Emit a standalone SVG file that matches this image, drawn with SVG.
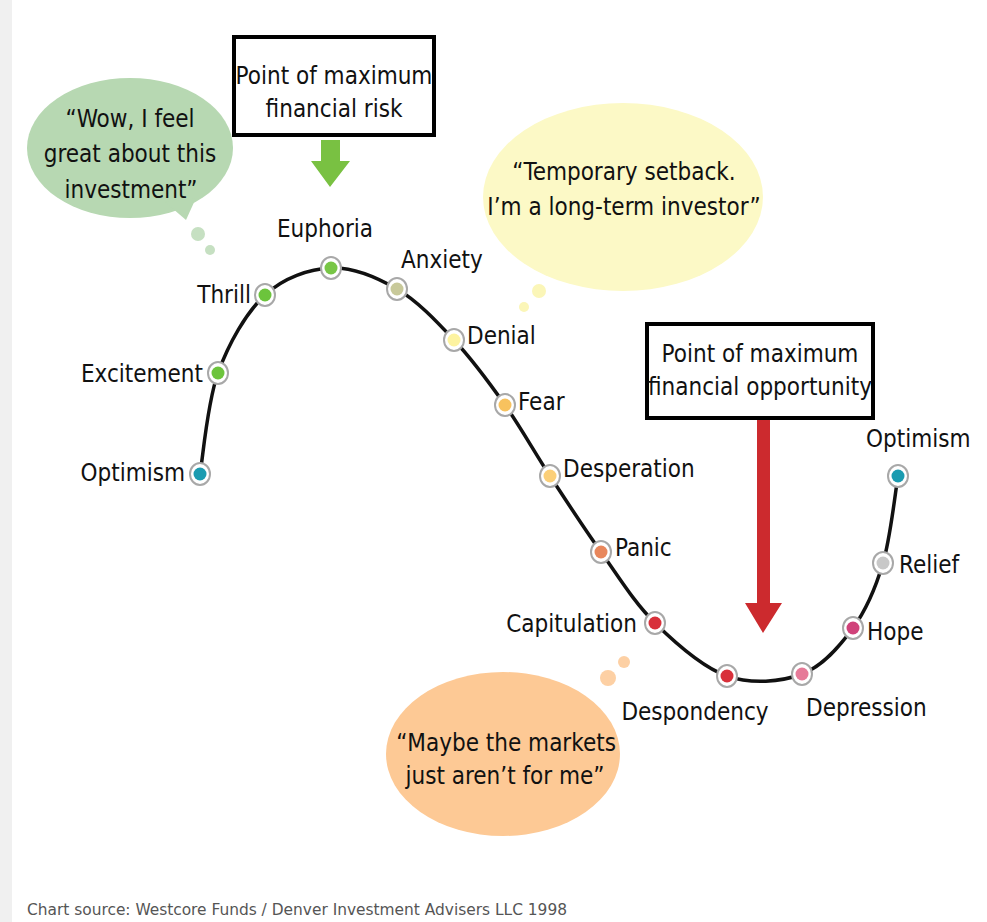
<svg xmlns="http://www.w3.org/2000/svg" width="987" height="922" viewBox="0 0 987 922">
<style>
text{font-family:"DejaVu Sans Condensed","DejaVu Sans",sans-serif;font-stretch:condensed;fill:#111;font-size:24px}
.mid{text-anchor:middle}
.end{text-anchor:end}
.ring{fill:#fff;stroke:#a8a8a8;stroke-width:2}
.box{fill:#fff;stroke:#000;stroke-width:4}
.foot{font-size:16px;fill:#555}
</style>
<rect x="0" y="0" width="987" height="922" fill="#fff"/>
<rect x="0" y="0" width="12" height="922" fill="#f0f0f0"/>

<g id="bubble-green">
<ellipse cx="130" cy="148" rx="103" ry="70" fill="#b7d8b2"/>
<path d="M165 202 L186 220 L196 198 Z" fill="#b7d8b2"/>
<circle cx="198" cy="234" r="7" fill="#c6e0c2"/>
<circle cx="210" cy="250" r="5" fill="#c6e0c2"/>
<text class="mid" x="130" y="127">“Wow, I feel</text>
<text class="mid" x="130" y="162">great about this</text>
<text class="mid" x="131" y="198">investment”</text>
</g>

<g id="bubble-yellow">
<ellipse cx="623" cy="197" rx="140" ry="94" fill="#fcf9c6"/>
<circle cx="539" cy="291" r="7" fill="#fbf6b8"/>
<circle cx="524" cy="307" r="5" fill="#fbf6b8"/>
<text class="mid" x="624" y="180">“Temporary setback.</text>
<text class="mid" x="624" y="215">I’m a long-term investor”</text>
</g>

<g id="bubble-orange">
<ellipse cx="503" cy="754" rx="117" ry="82" fill="#fdc995"/>
<circle cx="608" cy="678" r="8" fill="#fdd0a4"/>
<circle cx="624" cy="662" r="6" fill="#fdd0a4"/>
<text class="mid" x="506" y="751">“Maybe the markets</text>
<text class="mid" x="505" y="784">just aren’t for me”</text>
</g>

<g id="box-risk">
<rect class="box" x="234" y="37" width="200" height="98"/>
<text class="mid" x="334" y="84">Point of maximum</text>
<text class="mid" x="334" y="117">financial risk</text>
</g>

<g id="box-opportunity">
<rect class="box" x="647" y="324" width="226" height="94"/>
<text class="mid" x="760" y="362">Point of maximum</text>
<text class="mid" x="760" y="395">financial opportunity</text>
</g>

<g id="connectors">
<path d="M321 140 H340 V161 H350 L330 187 L311 161 H321 Z" fill="#79c142"/>
<path d="M757 420 H770 V603 H782 L763 633 L745 603 H757 Z" fill="#cc2a2e"/>
<path fill="none" stroke="#111" stroke-width="3.5" d="M200 474 C203 457.2 207.2 402.8 218 373 C228.8 343.2 246.2 312.5 265 295 C283.8 277.5 309 269 331 268 C353 267 376.5 277 397 289 C417.5 301 436 320.7 454 340 C472 359.3 489 382.3 505 405 C521 427.7 534 451.5 550 476 C566 500.5 583.5 527.5 601 552 C618.5 576.5 634 602.3 655 623 C676 643.7 702.5 667.5 727 676 C751.5 684.5 781 682 802 674 C823 666 839.5 646.5 853 628 C866.5 609.5 875.5 588.3 883 563 C890.5 537.7 895.5 490.5 898 476"/>
</g>

<g id="n-optimism1"><ellipse class="ring" cx="200" cy="474" rx="10" ry="11"/><circle cx="200" cy="474" r="6.5" fill="#1a9bb0"/><text class="end" x="185" y="481">Optimism</text></g>
<g id="n-excitement"><ellipse class="ring" cx="218" cy="373" rx="10" ry="11"/><circle cx="218" cy="373" r="6.5" fill="#6cc43c"/><text class="end" x="203" y="382">Excitement</text></g>
<g id="n-thrill"><ellipse class="ring" cx="265" cy="295" rx="10" ry="11"/><circle cx="265" cy="295" r="6.5" fill="#6cc43c"/><text class="end" x="251" y="303">Thrill</text></g>
<g id="n-euphoria"><ellipse class="ring" cx="331" cy="268" rx="10" ry="11"/><circle cx="331" cy="268" r="6.5" fill="#78c646"/><text class="mid" x="325" y="237">Euphoria</text></g>
<g id="n-anxiety"><ellipse class="ring" cx="397" cy="289" rx="10" ry="11"/><circle cx="397" cy="289" r="6.5" fill="#c8c99a"/><text x="401" y="268">Anxiety</text></g>
<g id="n-denial"><ellipse class="ring" cx="454" cy="340" rx="10" ry="11"/><circle cx="454" cy="340" r="6.5" fill="#fdf3a0"/><text x="467" y="344">Denial</text></g>
<g id="n-fear"><ellipse class="ring" cx="505" cy="405" rx="10" ry="11"/><circle cx="505" cy="405" r="6.5" fill="#f8c25e"/><text x="518" y="410">Fear</text></g>
<g id="n-desperation"><ellipse class="ring" cx="550" cy="476" rx="10" ry="11"/><circle cx="550" cy="476" r="6.5" fill="#fbcf78"/><text x="563" y="477">Desperation</text></g>
<g id="n-panic"><ellipse class="ring" cx="601" cy="552" rx="10" ry="11"/><circle cx="601" cy="552" r="6.5" fill="#e8875c"/><text x="615" y="556">Panic</text></g>
<g id="n-capitulation"><ellipse class="ring" cx="655" cy="623" rx="10" ry="11"/><circle cx="655" cy="623" r="6.5" fill="#d8303a"/><text class="end" x="637" y="632">Capitulation</text></g>
<g id="n-despondency"><ellipse class="ring" cx="727" cy="676" rx="10" ry="11"/><circle cx="727" cy="676" r="6.5" fill="#d8303a"/><text class="mid" x="695" y="720">Despondency</text></g>
<g id="n-depression"><ellipse class="ring" cx="802" cy="674" rx="10" ry="11"/><circle cx="802" cy="674" r="6.5" fill="#e67a98"/><text x="806" y="716">Depression</text></g>
<g id="n-hope"><ellipse class="ring" cx="853" cy="628" rx="10" ry="11"/><circle cx="853" cy="628" r="6.5" fill="#d0427a"/><text x="867" y="640">Hope</text></g>
<g id="n-relief"><ellipse class="ring" cx="883" cy="563" rx="10" ry="11"/><circle cx="883" cy="563" r="6.5" fill="#c8c8c8"/><text x="899" y="573">Relief</text></g>
<g id="n-optimism2"><ellipse class="ring" cx="898" cy="476" rx="10" ry="11"/><circle cx="898" cy="476" r="6.5" fill="#1a9bb0"/><text x="866" y="447">Optimism</text></g>

<text class="foot" x="27" y="915" textLength="540" lengthAdjust="spacingAndGlyphs">Chart source: Westcore Funds / Denver Investment Advisers LLC 1998</text>
</svg>
